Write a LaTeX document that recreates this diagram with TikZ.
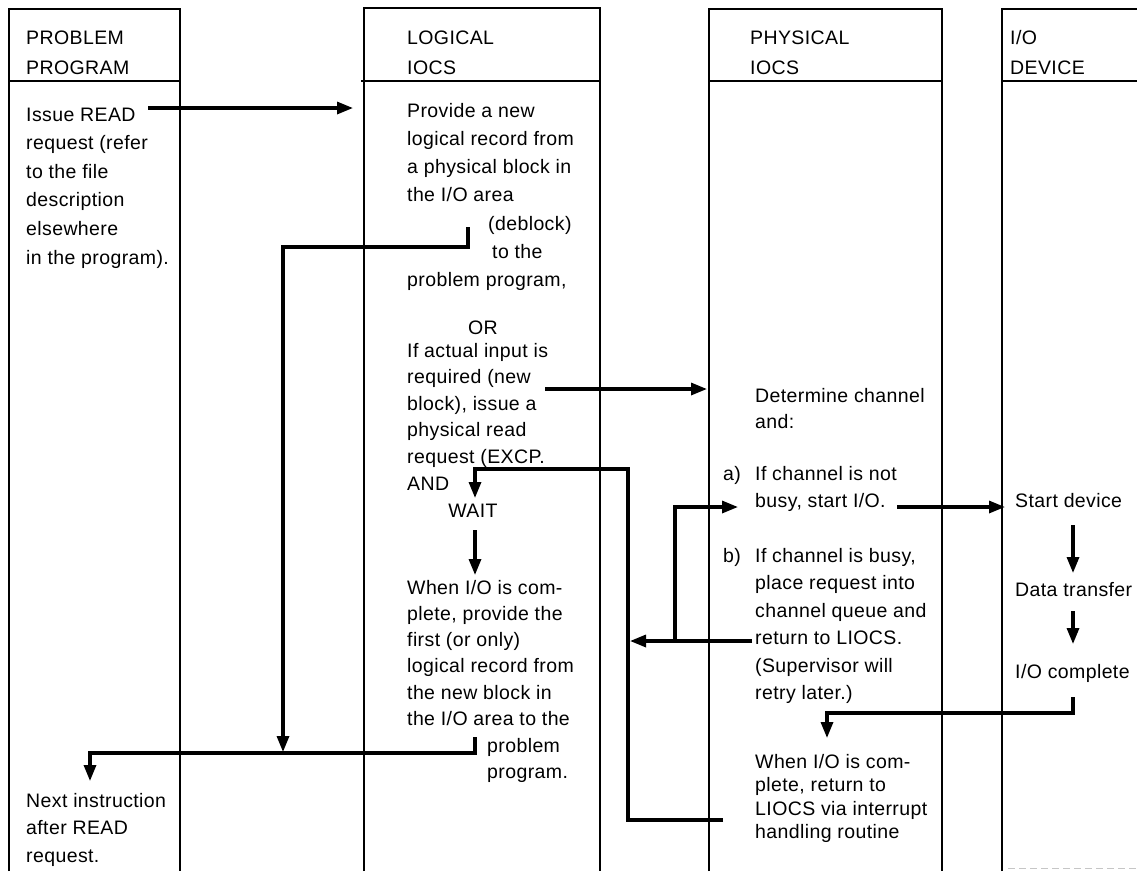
\documentclass[tikz,border=0pt]{standalone}
\usepackage{fontspec}
\setmainfont{Liberation Sans}[LetterSpace=2]
\usetikzlibrary{arrows.meta}
% a left-aligned stack of lines, aligned on the baseline of its first line
\newcommand\linestack[1]{\begin{tabular}[t]{@{}l@{}}#1\end{tabular}}
\tikzset{
  lane/.style={line width=1.4pt},
  txt/.style={anchor=base west, inner sep=0pt, font=\fontsize{19.5}{#1}\selectfont},
  txt/.default=27pt,
  ctxt/.style={anchor=base, inner sep=0pt, font=\fontsize{19.5}{27}\selectfont},
  seg/.style={line width=3.2pt},
  flow/.style={line width=3.2pt, -{Triangle[length=16pt,width=12pt]}},
}
\begin{document}
\begin{tikzpicture}[x=1pt, y=-1pt]
\useasboundingbox (0,0) rectangle (1137,871);
\fill[white] (0,0) rectangle (1137,871);

% ---- swimlanes ----
\draw[lane] (9,871) -- (9,9) -- (180,9) -- (180,871);
\draw[lane] (9,81) -- (180,81);
\draw[lane] (364,871) -- (364,8) -- (600,8) -- (600,871);
\draw[lane] (361,81) -- (600,81);
\draw[lane] (709,871) -- (709,9) -- (942,9) -- (942,871);
\draw[lane] (709,81) -- (942,81);
\draw[lane] (1002,871) -- (1002,9) -- (1137,9);
\draw[lane] (1002,81) -- (1137,81);
\draw[gray!45, line width=0.8pt, dash pattern=on 7pt off 4pt] (1008,868) -- (1137,868);

% ---- headings ----
\node[txt=30pt] (hPP) at (26,44)   {\linestack{PROBLEM\\PROGRAM}};
\node[txt=30pt] (hLI) at (407,44)  {\linestack{LOGICAL\\IOCS}};
\node[txt=30pt] (hPI) at (750,44)  {\linestack{PHYSICAL\\IOCS}};
\node[txt=30pt] (hIO) at (1010,44) {\linestack{I/O\\DEVICE}};

% ---- problem program ----
\node[txt=28.6pt] (pp1) at (26,121) {\linestack{Issue READ\\request (refer\\to the file\\description\\elsewhere\\in the program).}};
\node[txt=27.5pt] (pp2) at (26,807) {\linestack{Next instruction\\after READ\\request.}};

% ---- logical IOCS ----
\node[txt=28.3pt] (lg1) at (407,117) {\linestack{Provide a new\\logical record from\\a physical block in\\the I/O area\\\hspace{81pt}(deblock)\\\hspace{85pt}to the\\problem program,}};
\node[ctxt] (lgor) at (483,334) {OR};
\node[txt=26.6pt] (lg2) at (407,357) {\linestack{If actual input is\\required (new\\block), issue a\\physical read\\request (EXCP.\\AND}};
\node[ctxt] (lgwait) at (473,517) {WAIT};
\node[txt=26.3pt] (lg3) at (407,594) {\linestack{When I/O is com-\\plete, provide the\\first (or only)\\logical record from\\the new block in\\the I/O area to the}};
\node[txt=26pt] (lg4) at (487,752) {\linestack{problem\\program.}};

% ---- physical IOCS ----
\node[txt=26.5pt] (ph1) at (755,402) {\linestack{Determine channel\\and:}};
\node[txt] (pha) at (723,480) {a)};
\node[txt=27pt] (ph2) at (755,480) {\linestack{If channel is not\\busy, start I/O.}};
\node[txt] (phb) at (723,562) {b)};
\node[txt=27.5pt] (ph3) at (755,562) {\linestack{If channel is busy,\\place request into\\channel queue and\\return to LIOCS.\\(Supervisor will\\retry later.)}};
\node[txt=23.5pt] (ph4) at (755,768) {\linestack{When I/O is com-\\plete, return to\\LIOCS via interrupt\\handling routine}};

% ---- I/O device ----
\node[txt] (dv1) at (1015,507) {Start device};
\node[txt] (dv2) at (1015,596) {Data transfer};
\node[txt] (dv3) at (1015,678) {I/O complete};

% ---- connector end points ----
\coordinate (rdA) at (148,108);  \coordinate (rdB) at (353,108);
\coordinate (dbA) at (468,227);  \coordinate (dbB) at (468,247);
\coordinate (dbC) at (283,247);  \coordinate (dbD) at (283,752);
\coordinate (rtA) at (475,737);  \coordinate (rtB) at (475,753);
\coordinate (rtC) at (90,753);   \coordinate (rtD) at (90,781);
\coordinate (exA) at (545,389);  \coordinate (exB) at (707,389);
\coordinate (lpA) at (723,820);  \coordinate (lpB) at (628,820);
\coordinate (lpC) at (628,469);  \coordinate (lpD) at (475,469);
\coordinate (lpE) at (475,498);
\coordinate (wtA) at (475,530);  \coordinate (wtB) at (475,575);
\coordinate (bqA) at (752,641);  \coordinate (bqB) at (630,641);
\coordinate (ryA) at (675,641);  \coordinate (ryB) at (675,507);
\coordinate (ryC) at (738,507);
\coordinate (stA) at (897,507);  \coordinate (stB) at (1005,507);
\coordinate (d1A) at (1073,525); \coordinate (d1B) at (1073,573);
\coordinate (d2A) at (1073,611); \coordinate (d2B) at (1073,644);
\coordinate (cpA) at (1073,697); \coordinate (cpB) at (1073,713);
\coordinate (cpC) at (827,713);  \coordinate (cpD) at (827,738);

% ---- flow ----
\draw[flow] (rdA) -- (rdB);
\draw[flow] (dbA) -- (dbB) -- (dbC) -- (dbD);
\draw[flow] (rtA) -- (rtB) -- (rtC) -- (rtD);
\draw[flow] (exA) -- (exB);
\draw[flow] (lpA) -- (lpB) -- (lpC) -- (lpD) -- (lpE);
\draw[flow] (wtA) -- (wtB);
\draw[flow] (bqA) -- (bqB);
\draw[flow] (ryA) -- (ryB) -- (ryC);
\draw[flow] (stA) -- (stB);
\draw[flow] (d1A) -- (d1B);
\draw[flow] (d2A) -- (d2B);
\draw[flow] (cpA) -- (cpB) -- (cpC) -- (cpD);
\end{tikzpicture}
\end{document}
